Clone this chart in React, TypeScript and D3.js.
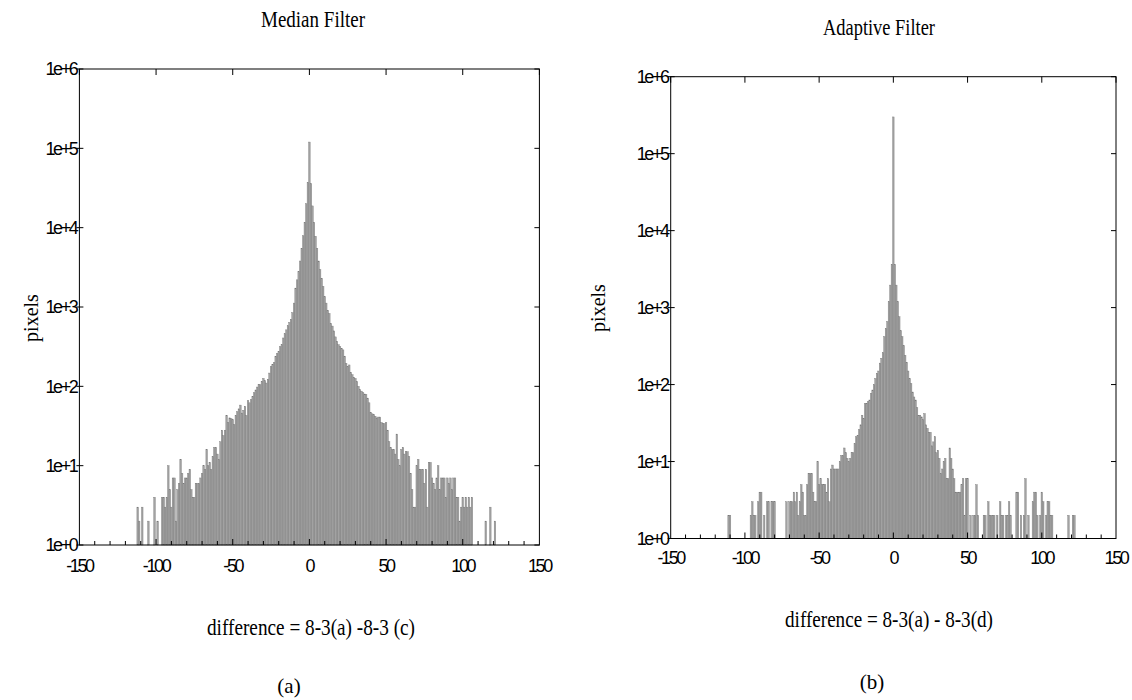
import React from "react";
import * as d3 from "d3";

// ---------- DATA ----------
// histogram of pixel differences (integer bins), counts per bin
const medianStart = -112;
const medianCounts = [
  3, 2, 0, 3, 0, 0, 0, 2, 0, 0, 0, 4, 0, 2, 0, 0,
  4, 4, 3, 4, 10, 5, 3, 7, 7, 2, 5, 6, 12, 8, 6, 7,
  7, 8, 9, 5, 4, 4, 6, 6, 6, 7, 8, 10, 9, 16, 10, 11,
  9, 13, 17, 17, 14, 12, 20, 28, 24, 28, 43, 35, 40, 39, 38, 33,
  43, 48, 52, 58, 46, 50, 56, 43, 66, 62, 68, 75, 83, 90, 98, 105,
  105, 116, 126, 118, 110, 123, 147, 178, 190, 200, 240, 260, 276, 318, 335, 407,
  460, 515, 580, 640, 700, 850, 1120, 1730, 2200, 2800, 3800, 5500, 7900, 11700, 20000, 37000,
  120000,
  36000, 18800, 11700, 7800, 5500, 3800, 2950, 2300, 1820, 1350, 1120, 910, 830, 620, 575, 500,
  420, 370, 335, 316, 300, 288, 240, 195, 178, 186, 150, 140, 130, 126, 115, 100,
  91, 87, 83, 80, 79, 71, 62, 47, 45, 44, 42, 40, 41, 41, 35, 34,
  34, 35, 28, 20, 17, 16, 16, 14, 25, 12, 10, 16, 17, 14, 15, 15,
  13, 8, 5, 3, 3, 10, 12, 9, 9, 9, 6, 9, 3, 11, 11, 7,
  6, 5, 7, 10, 5, 7, 7, 7, 4, 7, 6, 7, 5, 7, 7, 4,
  4, 2, 3, 4, 3, 4, 3, 4, 3, 4, 0, 0, 0, 0, 0, 0,
  0, 0, 2, 0, 0, 3, 0, 0, 2,
];

const adaptiveStart = -111;
const adaptiveCounts = [
  2, 2, 0, 0, 0, 0, 0, 0, 0, 0, 0, 0, 0, 0, 0, 2,
  3, 2, 2, 0, 3, 4, 4, 0, 2, 0, 3, 3, 0, 3, 3, 3,
  0, 0, 0, 0, 0, 0, 0, 3, 0, 3, 3, 3, 4, 3, 4, 2,
  3, 5, 4, 2, 2, 5, 7, 7, 7, 4, 3, 3, 10, 5, 6, 5,
  5, 5, 4, 6, 3, 8, 9, 8, 8, 8, 8, 10, 12, 12, 15, 13,
  11, 10, 11, 13, 13, 17, 21, 22, 26, 30, 40, 36, 57, 57, 60, 63,
  77, 85, 100, 120, 140, 150, 190, 220, 260, 420, 535, 660, 1200, 1960, 3650,
  300000,
  3650, 1960, 1200, 760, 500, 420, 320, 240, 195, 150, 120, 103, 80, 69, 63, 50,
  40, 40, 38, 35, 42, 30, 27, 24, 24, 16, 18, 21, 13, 14, 11, 7,
  8, 10, 11, 6, 6, 15, 11, 8, 6, 4, 4, 4, 4, 5, 6, 2,
  6, 6, 0, 2, 0, 2, 2, 5, 2, 0, 0, 0, 2, 2, 0, 3,
  2, 2, 2, 2, 0, 2, 0, 3, 2, 2, 0, 2, 2, 3, 2, 0,
  0, 0, 4, 4, 0, 2, 0, 2, 6, 0, 2, 0, 0, 3, 4, 4,
  2, 0, 2, 4, 3, 0, 2, 3, 3, 2, 2, 0, 0, 0, 0, 0,
  0, 0, 0, 0, 0, 2, 0, 0, 2, 2,
];

const xTickValues = [-150, -100, -50, 0, 50, 100, 150];
const yTickValues = [1, 10, 100, 1000, 10000, 100000, 1000000];
const xDomain = [-150, 150];
const yDomain = [1, 1000000];

const panels = [
  {
    title: "Median Filter",
    xLabel: "difference = 8-3(a) -8-3 (c)",
    caption: "(a)",
    start: medianStart,
    counts: medianCounts,
  },
  {
    title: "Adaptive Filter",
    xLabel: "difference = 8-3(a) - 8-3(d)",
    caption: "(b)",
    start: adaptiveStart,
    counts: adaptiveCounts,
  },
];

// ---------- LAYOUT ----------
const layouts = [
  {
    left: 79.4, right: 539.4, top: 69, bottom: 545,
    titleX: 313, titleY: 27, titleW: 104,
    xLabX: 311, xLabY: 635, xLabW: 208,
    capX: 289, capY: 693,
    yLabX: 38, yLabY: 318,
    tickLabY: 572,
  },
  {
    left: 670.7, right: 1116, top: 76.7, bottom: 538.5,
    titleX: 879, titleY: 35, titleW: 112,
    xLabX: 889, xLabY: 627, xLabW: 208,
    capX: 872, capY: 689,
    yLabX: 605, yLabY: 308,
    tickLabY: 564,
  },
];

const serif = "'Liberation Serif', 'Times New Roman', serif";
const sans = "'Liberation Sans', Arial, sans-serif";

function Panel({ p, L }: any) {
  const x = d3.scaleLinear().domain(xDomain).range([L.left, L.right]);
  const y = d3.scaleLog().domain(yDomain).range([L.bottom, L.top]);
  const bins = p.counts
    .map((c: number, i: number) => ({ d: p.start + i, c }))
    .filter((b: any) => b.c > 0);
  const minor = d3.range(-140, 150, 10);
  return (
    <g>
      {bins.map((b: any) => (
        <rect
          key={b.d}
          x={x(b.d - 0.5)}
          width={x(b.d + 0.5) - x(b.d - 0.5)}
          y={y(b.c)}
          height={L.bottom - y(b.c)}
          fill="#a2a2a2"
          stroke="#787878"
          strokeWidth={0.4}
        />
      ))}
      <rect
        x={L.left}
        y={L.top}
        width={L.right - L.left}
        height={L.bottom - L.top}
        fill="none"
        stroke="#000"
        strokeWidth={1}
      />
      {xTickValues.map((v) => (
        <line key={"t" + v} x1={x(v)} x2={x(v)} y1={L.top} y2={L.top + 6} stroke="#000" />
      ))}
      {minor.map((v) => (
        <line key={"b" + v} x1={x(v)} x2={x(v)} y1={L.bottom} y2={L.bottom - (v % 50 === 0 ? 6 : 4)} stroke="#000" />
      ))}
      {yTickValues.map((v) => (
        <g key={"y" + v}>
          <line x1={L.left - 3} x2={L.left + 4} y1={y(v)} y2={y(v)} stroke="#000" />
          <line x1={L.right} x2={L.right - 5} y1={y(v)} y2={y(v)} stroke="#000" />
          <text
            x={L.left - 3}
            y={y(v)}
            dy="0.36em"
            textAnchor="end"
            fontFamily={sans}
            fontSize={18}
            letterSpacing={-2.4}
          >
            {"1e+" + Math.round(Math.log10(v))}
          </text>
        </g>
      ))}
      {xTickValues.map((v) => (
        <text
          key={"xl" + v}
          x={x(v)}
          y={L.tickLabY}
          textAnchor="middle"
          fontFamily={sans}
          fontSize={18}
          letterSpacing={-2.4}
        >
          {String(v)}
        </text>
      ))}
      <text
        x={L.titleX}
        y={L.titleY}
        textAnchor="middle"
        fontFamily={serif}
        fontSize={23}
        textLength={L.titleW}
        lengthAdjust="spacingAndGlyphs"
      >
        {p.title}
      </text>
      <text
        x={L.xLabX}
        y={L.xLabY}
        textAnchor="middle"
        fontFamily={serif}
        fontSize={23}
        textLength={L.xLabW}
        lengthAdjust="spacingAndGlyphs"
      >
        {p.xLabel}
      </text>
      <text
        transform={`translate(${L.yLabX},${L.yLabY}) rotate(-90)`}
        textAnchor="middle"
        fontFamily={serif}
        fontSize={20}
      >
        pixels
      </text>
      <text x={L.capX} y={L.capY} textAnchor="middle" fontFamily={serif} fontSize={21}>
        {p.caption}
      </text>
    </g>
  );
}

export default function App() {
  return (
    <div style={{ position: "absolute", left: 0, top: 0 }}>
      <svg width={1132} height={700} style={{ display: "block", background: "#fff" }}>
        {panels.map((p, i) => (
          <Panel key={i} p={p} L={layouts[i]} />
        ))}
      </svg>
    </div>
  );
}
